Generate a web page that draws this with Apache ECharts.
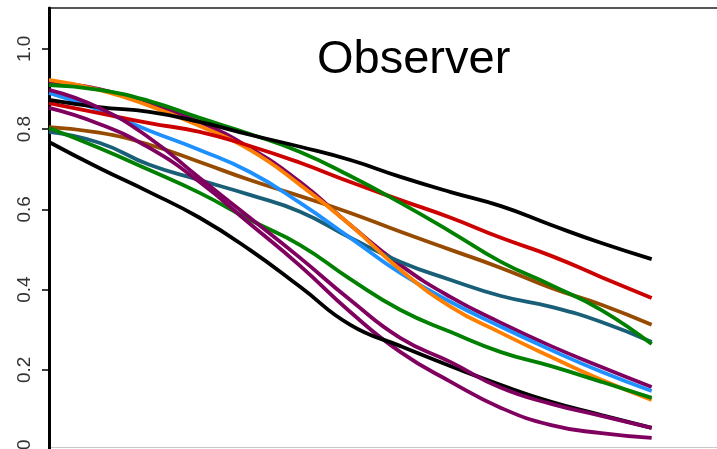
<!DOCTYPE html>
<html>
<head>
<meta charset="utf-8">
<script src="https://cdn.jsdelivr.net/npm/echarts@6/dist/echarts.min.js"></script>
<style>
  html, body { margin: 0; padding: 0; background: #fff; }
  #chart { width: 717px; height: 449px; }
</style>
</head>
<body>
<div id="chart"></div>
<script>
var myChart = echarts.init(document.getElementById('chart'));

// evenly spaced steps along x (no labels in the original)
var xs = [0, 1, 2, 3, 4, 5, 6, 7, 8, 9, 10, 11, 12];

var blackTop = [0.873, 0.855, 0.843, 0.818, 0.786, 0.756, 0.723, 0.681, 0.643, 0.608, 0.561, 0.516, 0.476];
var red      = [0.865, 0.840, 0.815, 0.793, 0.758, 0.716, 0.668, 0.623, 0.579, 0.529, 0.484, 0.431, 0.379];
var greenTop = [0.910, 0.898, 0.870, 0.828, 0.788, 0.743, 0.683, 0.616, 0.544, 0.469, 0.411, 0.349, 0.264];
var orange   = [0.923, 0.898, 0.858, 0.808, 0.748, 0.661, 0.561, 0.449, 0.357, 0.292, 0.232, 0.175, 0.125];
var blue     = [0.890, 0.848, 0.796, 0.748, 0.693, 0.616, 0.529, 0.441, 0.369, 0.307, 0.249, 0.195, 0.147];
var brown    = [0.805, 0.791, 0.761, 0.718, 0.673, 0.633, 0.591, 0.544, 0.499, 0.454, 0.404, 0.362, 0.312];
var teal     = [0.793, 0.766, 0.711, 0.673, 0.636, 0.594, 0.529, 0.469, 0.424, 0.384, 0.357, 0.319, 0.269];
var greenLow = [0.803, 0.753, 0.698, 0.641, 0.574, 0.511, 0.426, 0.349, 0.294, 0.244, 0.209, 0.170, 0.130];
var blackLow = [0.768, 0.703, 0.643, 0.579, 0.499, 0.407, 0.312, 0.259, 0.209, 0.162, 0.120, 0.087, 0.055];
var purpleA  = [0.898, 0.853, 0.778, 0.678, 0.579, 0.479, 0.374, 0.279, 0.219, 0.155, 0.115, 0.085, 0.055];
var purpleB  = [0.853, 0.813, 0.753, 0.668, 0.564, 0.459, 0.344, 0.244, 0.170, 0.105, 0.062, 0.042, 0.030];
var purpleC  = [0.918, 0.900, 0.863, 0.818, 0.753, 0.668, 0.561, 0.461, 0.381, 0.317, 0.259, 0.207, 0.157];

var yTicks = [0, 0.2, 0.4, 0.6, 0.8, 1.0];

function pairs(vals) {
    var out = [];
    for (var i = 0; i < vals.length; i++) {
        out.push([xs[i], vals[i]]);
    }
    return out;
}

function line(name, vals, color) {
    return {
        name: name,
        type: 'line',
        data: pairs(vals),
        smooth: 0.5,
        symbol: 'none',
        silent: true,
        lineStyle: { color: color, width: 3.8 }
    };
}

myChart.setOption({
    backgroundColor: '#fff',
    animation: false,
    title: {
        text: 'Observer',
        left: 317,
        top: 37,
        padding: 0,
        textStyle: {
            fontFamily: 'Liberation Sans',
            fontSize: 47,
            fontWeight: 'normal',
            color: '#000'
        }
    },
    grid: {
        left: 49,
        right: -10,
        top: 8,
        bottom: -1,
        outerBoundsMode: 'none',
        containLabel: false,
        show: true,
        borderColor: '#555',
        borderWidth: 2
    },
    xAxis: {
        type: 'value',
        min: 0,
        max: 13.5,
        show: false
    },
    yAxis: {
        type: 'value',
        min: 0,
        max: 1.102,
        axisLine: { show: true, lineStyle: { color: '#000', width: 3 } },
        axisTick: {
            show: true,
            length: 7,
            customValues: yTicks,
            lineStyle: { color: '#000', width: 1.5 }
        },
        splitLine: { show: false },
        axisLabel: {
            rotate: 90,
            margin: 15,
            fontFamily: 'Liberation Sans',
            fontSize: 19,
            color: '#333',
            alignMinLabel: 'left',
            customValues: yTicks,
            formatter: function (v) {
                return v === 0 ? '0' : v.toFixed(1);
            }
        }
    },
    graphic: [{
        type: 'line',
        shape: { x1: 49, y1: 447.5, x2: 717, y2: 447.5 },
        style: { stroke: '#c8c8c8', lineWidth: 1 }
    }],
    series: [
        line('purpleC', purpleC, '#800060'),
        line('teal', teal, '#1a5f78'),
        line('brown', brown, '#964b00'),
        line('blue', blue, '#1e90ff'),
        line('orange', orange, '#ff8000'),
        line('red', red, '#cc0000'),
        line('greenTop', greenTop, '#008000'),
        line('blackTop', blackTop, '#000000'),
        line('greenLow', greenLow, '#008000'),
        line('purpleB', purpleB, '#800060'),
        line('blackLow', blackLow, '#000000'),
        line('purpleA', purpleA, '#800060')
    ]
});
</script>
</body>
</html>
